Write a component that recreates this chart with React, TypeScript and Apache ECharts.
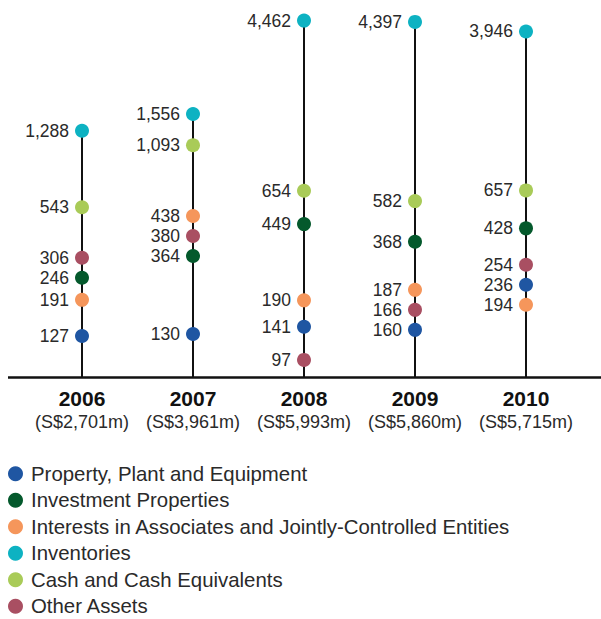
import React, { useEffect, useRef } from "react";
import * as echarts from "echarts";

const years = ["2006", "2007", "2008", "2009", "2010"];
const totals = ["(S$2,701m)", "(S$3,961m)", "(S$5,993m)", "(S$5,860m)", "(S$5,715m)"];

const ppe = [127, 130, 141, 160, 236];
const investment = [246, 364, 449, 368, 428];
const associates = [191, 438, 190, 187, 194];
const inventories = [1288, 1556, 4462, 4397, 3946];
const cash = [543, 1093, 654, 582, 657];
const other = [306, 380, 97, 166, 254];

const seriesNames = [
  "Property, Plant and Equipment",
  "Investment Properties",
  "Interests in Associates and Jointly-Controlled Entities",
  "Inventories",
  "Cash and Cash Equivalents",
  "Other Assets",
];
const seriesValues = [ppe, investment, associates, inventories, cash, other];
const seriesColors = ["#1f56a2", "#04592c", "#f5965b", "#0db2c2", "#a9cb58", "#a94f62"];

const FONT = "'Liberation Sans', Arial, Helvetica, sans-serif";
const MIN_GAP = 20;

function buildOption(offsets: number[][] | null): any {
  const stems = years.map((_, i) => [i, Math.max(...seriesValues.map((s) => s[i]))]);
  return {
    animation: false,
    backgroundColor: "#ffffff",
    textStyle: { fontFamily: FONT },
    grid: { left: 26.5, right: 19.5, top: 10.5, bottom: 242, containLabel: false },
    xAxis: {
      type: "category",
      data: years,
      boundaryGap: true,
      axisLine: { show: false },
      axisTick: { show: false },
      splitLine: { show: false },
      axisLabel: {
        margin: 9,
        interval: 0,
        formatter: (v: string, idx: number) => `{a|${v}}\n{b|${totals[idx]}}`,
        rich: {
          a: { fontSize: 21, fontWeight: "bold", color: "#111", lineHeight: 24, fontFamily: FONT },
          b: { fontSize: 18, color: "#2a2a2a", lineHeight: 24, fontFamily: FONT },
        },
      },
    },
    yAxis: {
      type: "log",
      logBase: 10,
      min: 80,
      max: 5000,
      show: false,
      splitLine: { show: false },
    },
    legend: {
      orient: "vertical",
      left: 8,
      top: 463.7,
      padding: 0,
      icon: "circle",
      itemWidth: 15,
      itemHeight: 15,
      itemGap: 6.5,
      data: seriesNames,
      selectedMode: false,
      textStyle: {
        fontSize: 20.4,
        lineHeight: 20,
        color: "#2a2a2a",
        fontFamily: FONT,
        padding: [0, 0, 0, 3],
      },
    },
    graphic: [
      {
        type: "line",
        shape: { x1: 8, y1: 377.5, x2: 601, y2: 377.5 },
        style: { stroke: "#111", lineWidth: 2.5 },
        z: 1,
        silent: true,
      },
    ],
    series: [
      {
        type: "custom",
        name: "stems",
        silent: true,
        z: 1,
        data: stems,
        renderItem: (params: any, api: any) => {
          const top = api.coord([api.value(0), api.value(1)]);
          const cs = params.coordSys;
          return {
            type: "line",
            shape: { x1: top[0], y1: top[1], x2: top[0], y2: cs.y + cs.height },
            style: { stroke: "#111", lineWidth: 2 },
          };
        },
      },
      ...seriesNames.map((name, s) => ({
        type: "scatter",
        name,
        z: 3,
        symbol: "circle",
        symbolSize: 14,
        itemStyle: { color: seriesColors[s], opacity: 1 },
        label: {
          show: true,
          position: "left",
          distance: 6,
          fontSize: 17.5,
          lineHeight: 15,
          color: "#2a2a2a",
          fontFamily: FONT,
          formatter: (p: any) => Number(p.value).toLocaleString("en-US"),
        },
        data: seriesValues[s].map((v, i) =>
          offsets ? { value: v, symbolOffset: [0, offsets[s][i]] } : { value: v }
        ),
      })),
    ],
  };
}

function computeOffsets(chart: any): number[][] {
  const offsets = seriesValues.map((vals) => vals.map(() => 0));
  years.forEach((_, i) => {
    const pts = seriesValues.map((vals, s) => {
      const px = chart.convertToPixel({ seriesIndex: s + 1 }, [i, vals[i]]);
      const y = Array.isArray(px) ? px[1] : 0;
      return { s, y, y2: y };
    });
    pts.sort((a, b) => a.y - b.y);
    for (let iter = 0; iter < 300; iter++) {
      let moved = false;
      for (let k = 0; k < pts.length - 1; k++) {
        const gap = pts[k + 1].y2 - pts[k].y2;
        if (gap < MIN_GAP - 0.01) {
          const d = (MIN_GAP - gap) / 2;
          pts[k].y2 -= d;
          pts[k + 1].y2 += d;
          moved = true;
        }
      }
      if (!moved) break;
    }
    pts.forEach((p) => {
      offsets[p.s][i] = p.y2 - p.y;
    });
  });
  return offsets;
}

export default function App() {
  const ref = useRef<HTMLDivElement>(null);
  useEffect(() => {
    if (!ref.current) return;
    const chart = echarts.init(ref.current, null, { renderer: "svg" });
    chart.setOption(buildOption(null));
    const offsets = computeOffsets(chart);
    chart.setOption(buildOption(offsets), { notMerge: true });
    return () => chart.dispose();
  }, []);
  return (
    <div
      ref={ref}
      style={{ position: "absolute", left: 0, top: 0, width: 601, height: 619, background: "#fff" }}
    />
  );
}
